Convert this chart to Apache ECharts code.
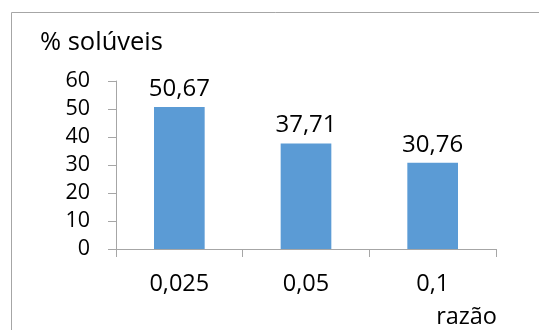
<!DOCTYPE html>
<html>
<head>
<meta charset="utf-8">
<script src="https://cdn.jsdelivr.net/npm/echarts@6/dist/echarts.min.js"></script>
<style>
  html, body { margin: 0; padding: 0; background: #fff; }
  #chart { width: 539px; height: 330px; }
</style>
</head>
<body>
<div id="chart"></div>
<script>
// Soluble fraction by ratio
const categories = ['0,025', '0,05', '0,1'];
const solubleValues = [50.67, 37.71, 30.76];
const yTicks = { min: 0, max: 60, interval: 10 };

const FONT = '"Open Sans", "Noto Sans", sans-serif';
const AXIS_GRAY = '#a6a6a6';

const fmt = v => v.toFixed(2).replace('.', ',');

const chart = echarts.init(document.getElementById('chart'));
chart.setOption({
  animation: false,
  backgroundColor: '#fff',
  textStyle: { fontFamily: FONT },
  graphic: [
    {
      type: 'rect',
      shape: { x: 11.5, y: 12.5, width: 700, height: 500 },
      style: { fill: 'none', stroke: AXIS_GRAY, lineWidth: 1 },
      silent: true
    },
    {
      type: 'text',
      left: 40, top: 30,
      style: { text: '% solúveis', font: '25.5px ' + FONT, fill: '#000' }
    },
    {
      type: 'text',
      right: 42, top: 305,
      style: { text: 'razão', font: '23.5px ' + FONT, fill: '#000' }
    }
  ],
  grid: { left: 116, right: 43, top: 81, bottom: 81, containLabel: false },
  xAxis: {
    type: 'category',
    data: categories,
    boundaryGap: true,
    axisLine: { show: true, lineStyle: { color: AXIS_GRAY, width: 1 } },
    axisTick: { show: true, alignWithLabel: false, length: 8, lineStyle: { color: AXIS_GRAY } },
    axisLabel: { color: '#000', fontSize: 23.5, fontFamily: FONT, margin: 23 },
    splitLine: { show: false }
  },
  yAxis: {
    type: 'value',
    min: yTicks.min, max: yTicks.max, interval: yTicks.interval,
    axisLine: { show: true, lineStyle: { color: AXIS_GRAY, width: 1 } },
    axisTick: { show: true, inside: false, length: 8, lineStyle: { color: AXIS_GRAY } },
    axisLabel: { color: '#000', fontSize: 21.5, fontFamily: FONT, margin: 26 },
    splitLine: { show: false }
  },
  series: [{
    type: 'bar',
    data: solubleValues,
    barWidth: '40%',
    itemStyle: { color: '#5b9bd5' },
    label: {
      show: true,
      position: 'top',
      distance: 6,
      color: '#000',
      fontSize: 24,
      fontFamily: FONT,
      formatter: p => fmt(p.value)
    }
  }]
});
</script>
</body>
</html>
